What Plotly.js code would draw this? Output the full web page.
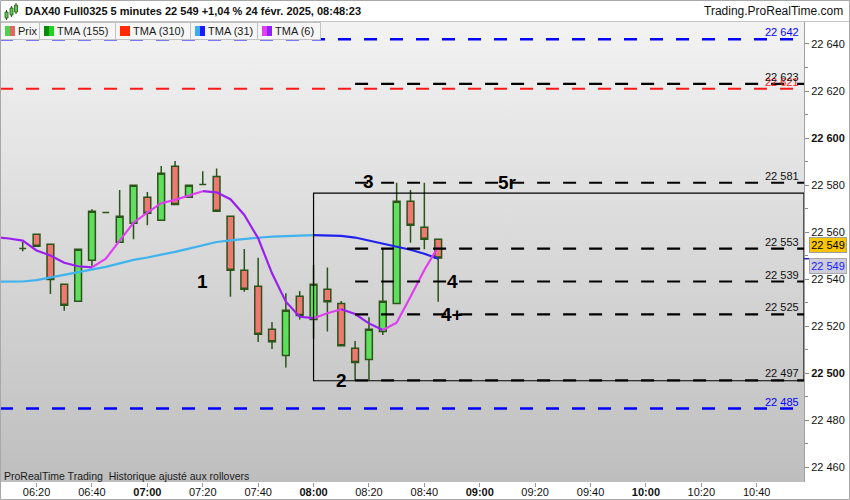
<!DOCTYPE html>
<html><head><meta charset="utf-8">
<script src="https://cdn.plot.ly/plotly-3.0.1.min.js"></script>
<style>
html,body{margin:0;padding:0;background:#fff;}
#wrap{position:relative;width:850px;height:500px;overflow:hidden;background:#fff;}
#bg{position:absolute;left:0;top:22px;width:804px;height:460px;background:linear-gradient(#f3f3f3,#bebebe);}
#chart{position:absolute;left:0;top:0;width:850px;height:500px;}
</style></head><body>
<div id="wrap"><div id="bg"></div><div id="chart"></div></div>
<script>
// ---- data ----
const day = '2025-02-24 ';
const candleTimes = ['06:15','06:20','06:25','06:30','06:35','06:40','06:45','06:50','06:55','07:00','07:05','07:10','07:15','07:20','07:25','07:30','07:35','07:40','07:45','07:50','07:55','08:00','08:05','08:10','08:15','08:20','08:25','08:30','08:35','08:40','08:45'];
const openP  = [22553.0,22559.1,22554.8,22537.8,22530.6,22548.0,22568.3,22555.7,22563.8,22574.8,22565.0,22588.0,22574.8,22580.2,22583.7,22566.7,22543.8,22537.0,22518.7,22507.5,22532.7,22522.8,22535.7,22529.7,22510.6,22505.8,22517.7,22529.6,22573.1,22562.1,22557.0];
const highP  = [22555.8,22559.1,22554.8,22537.8,22552.7,22569.7,22568.3,22577.9,22579.9,22577.1,22588.1,22590.2,22579.9,22585.9,22587.1,22566.7,22552.8,22549.1,22521.8,22534.0,22535.0,22546.0,22545.0,22530.7,22513.7,22523.8,22552.8,22581.0,22577.9,22581.0,22557.0];
const lowP   = [22551.9,22554.0,22533.7,22526.6,22530.6,22545.6,22568.3,22555.7,22557.0,22562.9,22565.0,22571.8,22574.8,22580.2,22568.9,22532.5,22534.7,22513.3,22510.3,22502.4,22522.9,22514.7,22517.7,22511.7,22497.0,22497.0,22516.3,22529.6,22555.5,22552.7,22530.4];
const closeP = [22553.0,22554.0,22539.9,22528.9,22552.7,22568.9,22568.3,22566.7,22579.9,22568.0,22585.0,22571.8,22579.9,22580.2,22568.9,22543.8,22535.7,22516.6,22513.4,22526.8,22524.6,22537.8,22530.4,22511.7,22504.6,22518.7,22530.6,22573.1,22562.9,22557.0,22549.0];

const maTimes = ['06:05','06:10','06:15','06:20','06:25','06:30','06:35','06:40','06:45','06:50','06:55','07:00','07:05','07:10','07:15','07:20','07:25','07:30','07:35','07:40','07:45','07:50','07:55','08:00','08:05','08:10','08:15','08:20','08:25','08:30','08:35','08:40','08:45'];
const tma6  = [22557.8,22557.3,22556.4,22552.2,22550.1,22547.0,22545.5,22545.0,22548.7,22556.4,22564.0,22568.3,22572.3,22573.7,22575.4,22577.4,22576.9,22574.0,22567.3,22557.4,22542.5,22530.4,22524.0,22523.4,22525.5,22527.2,22525.2,22521.2,22518.4,22521.5,22532.5,22543.9,22553.8];
const tma31 = [22538.9,22538.9,22539.0,22539.6,22540.7,22541.8,22542.8,22544.0,22545.2,22546.7,22548.2,22549.2,22550.3,22551.6,22553.0,22554.3,22555.8,22556.5,22557.2,22557.6,22558.1,22558.4,22558.5,22558.7,22558.6,22558.4,22557.7,22556.4,22555.0,22553.9,22552.5,22550.8,22548.7];

const blueLevels  = [22642, 22485];
const redLevels   = [22621];
const blackLevels = [22623, 22581, 22553, 22539, 22525, 22497];
const blackLevelStart = '08:15';

const boxStart = '08:00';
const boxLow = 22496.8, boxHigh = 22576.6;

const waveLabels = ['1','2','3','4','4+','5r'];
const waveTimes  = ['07:20','08:10','08:20','08:50','08:50','09:10'];
const waveValues = [22539.2,22496.8,22581.5,22539.0,22525.0,22581.0];

const xTicks = ['06:20','06:40','07:00','07:20','07:40','08:00','08:20','08:40','09:00','09:20','09:40','10:00','10:20','10:40'];
const yTicks = [22460,22480,22500,22520,22540,22560,22580,22600,22620,22640];
const yMinor = [22470,22490,22510,22530,22550,22570,22590,22610,22630];

const legendNames = ['Prix','TMA (155)','TMA (310)','TMA (31)','TMA (6)'];

const headerText = 'DAX40 Full0325 5 minutes 22 549 +1,04 % 24 févr. 2025, 08:48:23';
const siteText = 'Trading.ProRealTime.com';
const footText = 'ProRealTime Trading  Historique ajusté aux rollovers';

// ---- helpers ----
const FONT = 'Liberation Sans, Arial, sans-serif';
const D = t => day + t;
const W = 804, T = 22, B = 482;
const X = px => px / W;
const Y = py => (B - py) / (B - T);
const fmt = v => { const s = String(Math.round(v)); return s.slice(0, s.length-3) + ' ' + s.slice(-3); };

const GREEN = '#5ee05e', RED = '#f07872', EDGE = '#2b5418';

const traces = [{
  type: 'candlestick',
  x: candleTimes.map(D), open: openP, high: highP, low: lowP, close: closeP,
  increasing: {line: {color: EDGE, width: 1.5}, fillcolor: GREEN},
  decreasing: {line: {color: EDGE, width: 1.5}, fillcolor: RED},
  whiskerwidth: 0, hoverinfo: 'skip'
}];

function segments(times, vals, upColor, downColor) {
  const out = [];
  const dir = i => vals[i+1] >= vals[i] ? 1 : -1;
  let i = 0;
  while (i < vals.length - 1) {
    const d = dir(i); let j = i;
    while (j < vals.length - 1 && dir(j) === d) j++;
    out.push({type: 'scatter', mode: 'lines', x: times.slice(i, j+1).map(D), y: vals.slice(i, j+1),
      line: {color: d > 0 ? upColor : downColor, width: 2.2}, hoverinfo: 'skip'});
    i = j;
  }
  return out;
}
traces.push(...segments(maTimes, tma31, '#3fb3ee', '#2222ee'));
traces.push(...segments(maTimes, tma6, '#e03ff0', '#9a20f0'));

const xEnd = '2025-02-24 10:57:04';
const shapes = [];
const annotations = [];

// level lines
blueLevels.forEach(v => shapes.push({type:'line', xref:'paper', yref:'y', x0:0, x1:1, y0:v, y1:v, line:{color:'#0000ff', width:2.5, dash:'13px,13px'}}));
redLevels.forEach(v => shapes.push({type:'line', xref:'paper', yref:'y', x0:0, x1:1, y0:v, y1:v, line:{color:'#ff1a1a', width:2, dash:'13px,13px'}}));
blackLevels.forEach(v => shapes.push({type:'line', xref:'x', yref:'y', x0:D(blackLevelStart), x1:xEnd, y0:v, y1:v, line:{color:'#000', width:2.2, dash:'13px,13px'}}));
shapes.push({type:'rect', xref:'x', yref:'y', x0:D(boxStart), x1:xEnd, y0:boxLow, y1:boxHigh, line:{color:'#000', width:1.2}});

const levelLabel = (v, color) => annotations.push({xref:'paper', yref:'y', x:X(800), y:v, xanchor:'right', yanchor:'bottom', showarrow:false, text:fmt(v), font:{family:FONT, size:11, color:color}, borderpad:0});
blueLevels.forEach(v => levelLabel(v, '#0000ff'));
redLevels.forEach(v => levelLabel(v, '#ff1a1a'));
blackLevels.forEach(v => levelLabel(v, '#111'));

waveLabels.forEach((t, i) => annotations.push({xref:'x', yref:'y', x:D(waveTimes[i]), y:waveValues[i], xanchor:'center', yanchor:'middle', showarrow:false, text:t, font:{family:FONT, size:19, color:'#000', weight:'bold'}}));

// header
shapes.push({type:'line', xref:'paper', yref:'paper', x0:X(0), x1:X(850), y0:Y(21.5), y1:Y(21.5), line:{color:'#c4c4c4', width:1}});
// icon
[[5,8,12,18,10,20],[10,13,8,15,6,17],[14.5,17.5,5,12,3,14]].forEach(c => {
  shapes.push({type:'line', xref:'paper', yref:'paper', x0:X((c[0]+c[1])/2), x1:X((c[0]+c[1])/2), y0:Y(c[4]), y1:Y(c[5]), line:{color:'#2b5418', width:1}});
  shapes.push({type:'rect', xref:'paper', yref:'paper', x0:X(c[0]), x1:X(c[1]), y0:Y(c[2]), y1:Y(c[3]), fillcolor:'#55cc55', line:{color:'#2b5418', width:0.8}});
});
annotations.push({xref:'paper', yref:'paper', x:X(23), y:Y(11.5), xanchor:'left', yanchor:'middle', showarrow:false, text:headerText, font:{family:FONT, size:11, color:'#111', weight:'bold'}});
annotations.push({xref:'paper', yref:'paper', x:X(845), y:Y(11.5), xanchor:'right', yanchor:'middle', showarrow:false, text:siteText, font:{family:FONT, size:12, color:'#111'}});

// legend boxes
const boxEdges = [0, 39, 115, 190, 257, 320];
const swatches = [['#4fd14f','#e0675f'],['#0a8a0a','#1fd41f'],['#ff2a00','#ff2a00'],['#3aaef0','#1a1aff'],['#e040f0','#9020ff']];
legendNames.forEach((n, i) => {
  const x0 = boxEdges[i], x1 = boxEdges[i+1];
  shapes.push({type:'rect', xref:'paper', yref:'paper', x0:X(x0+0.5), x1:X(x1+0.5), y0:Y(22.5), y1:Y(39.5), fillcolor:'#f6f6f6', line:{color:'#c2c2c2', width:1}});
  shapes.push({type:'rect', xref:'paper', yref:'paper', x0:X(x0+5), x1:X(x0+10), y0:Y(26), y1:Y(36), fillcolor:swatches[i][0], line:{width:0}});
  shapes.push({type:'rect', xref:'paper', yref:'paper', x0:X(x0+10), x1:X(x0+15), y0:Y(26), y1:Y(36), fillcolor:swatches[i][1], line:{width:0}});
  annotations.push({xref:'paper', yref:'paper', x:X(x0+16), y:Y(31), xanchor:'left', yanchor:'middle', showarrow:false, text:n, font:{family:FONT, size:11, color:'#1a1a1a'}});
});

// footer text
annotations.push({xref:'paper', yref:'paper', x:X(2), y:Y(476), xanchor:'left', yanchor:'middle', showarrow:false, text:footText, font:{family:FONT, size:10.5, color:'#1a1a1a'}});

// price boxes on axis
annotations.push({xref:'paper', yref:'paper', x:X(809), y:Y(245), xanchor:'left', yanchor:'middle', showarrow:false, text:fmt(closeP[closeP.length-1]), font:{family:FONT, size:11, color:'#000'}, bgcolor:'#f7c600', bordercolor:'#a0a0a0', borderwidth:1, borderpad:1, width:34});
annotations.push({xref:'paper', yref:'paper', x:X(809), y:Y(266), xanchor:'left', yanchor:'middle', showarrow:false, text:fmt(tma31[tma31.length-1]), font:{family:FONT, size:11, color:'#2020ff'}, bgcolor:'#cdcddc', bordercolor:'#a8a8a8', borderwidth:1, borderpad:1, width:34});
shapes.push({type:'line', xref:'paper', yref:'y', x0:X(804), x1:X(809), y0:tma31[tma31.length-1], y1:tma31[tma31.length-1], line:{color:'#2020c0', width:1.5}});

// outer frame
shapes.push({type:'rect', xref:'paper', yref:'paper', x0:X(0.5), x1:X(849.5), y0:Y(0.5), y1:Y(499.5), line:{color:'#a8a8a8', width:1}});

const layout = {
  width: 850, height: 500,
  margin: {l:0, r:46, t:22, b:18, pad:0},
  paper_bgcolor: 'rgba(0,0,0,0)', plot_bgcolor: 'rgba(0,0,0,0)',
  showlegend: false, hovermode: false, dragmode: false,
  xaxis: {type:'date', range:['2025-02-24 06:06:48', xEnd], tickmode:'array', tickvals:xTicks.map(D),
    ticktext:xTicks.map(t => t.endsWith(':00') ? '<b>'+t+'</b>' : t), ticks:'outside', ticklen:4, tickcolor:'#999',
    ticklabelstandoff:-4,
    showgrid:false, zeroline:false, showline:false, rangeslider:{visible:false}, fixedrange:true,
    tickfont:{family:FONT, size:11, color:'#111'}},
  yaxis: {side:'right', range:[22453.75, 22649.35], tickmode:'array', tickvals:yTicks,
    ticktext:yTicks.map(v => v % 100 === 0 ? '<b>'+fmt(v)+'</b>' : fmt(v)), ticks:'outside', ticklen:4, tickcolor:'#888',
    minor:{tickmode:'array', tickvals:yMinor, ticks:'outside', ticklen:3, tickcolor:'#888', showgrid:false},
    showgrid:false, zeroline:false, showline:true, linecolor:'#a0a0a0', linewidth:1, fixedrange:true,
    tickfont:{family:FONT, size:11, color:'#111'}},
  shapes: shapes, annotations: annotations
};

Plotly.newPlot('chart', traces, layout, {displayModeBar:false, staticPlot:true});
</script></body></html>
